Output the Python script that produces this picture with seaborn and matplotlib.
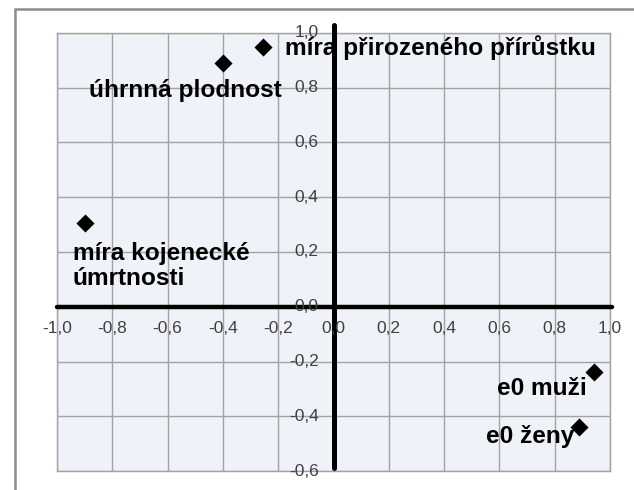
import numpy as np
import pandas as pd
import matplotlib
matplotlib.use("Agg")
import matplotlib.pyplot as plt
import seaborn as sns
from matplotlib.patches import Rectangle

# %% data
labels = ["míra přirozeného přírůstku", "úhrnná plodnost",
          "míra kojenecké\númrtnosti", "e0 muži", "e0 ženy"]
x_vals = [-0.255, -0.40, -0.90, 0.942, 0.888]
y_vals = [0.949, 0.89, 0.307, -0.237, -0.438]

x_ticks = [-1.0, -0.8, -0.6, -0.4, -0.2, 0.0, 0.2, 0.4, 0.6, 0.8, 1.0]
y_ticks = [-0.6, -0.4, -0.2, 0.0, 0.2, 0.4, 0.6, 0.8, 1.0]

df = pd.DataFrame({"label": labels, "x": x_vals, "y": y_vals})

# label placement relative to marker, in pixels (ha, va, dx, dy)
label_pos = {
    "míra přirozeného přírůstku": ("left", "center", 22, -1),
    "úhrnná plodnost": ("center", "center", -38, -27),
    "míra kojenecké\númrtnosti": ("left", "center", -12, -43),
    "e0 muži": ("center", "center", -52, -17),
    "e0 ženy": ("center", "center", -49, -10),
}

# %% plot
sns.set_style("white")
plt.rcParams["font.family"] = ["Liberation Sans", "DejaVu Sans"]

fig = plt.figure(figsize=(6.34, 4.9), dpi=100)
fig.patch.set_facecolor("white")
ax = fig.add_axes([57 / 634, 19 / 490, 553 / 634, 438 / 490])
ax.set_facecolor("#eff2f8")

# outer frame (cut at right/bottom like the reference)
fig.patches.append(Rectangle((15 / 634, -0.1), 1.2, (490 - 9) / 490 + 0.1,
                             transform=fig.transFigure, fill=False,
                             edgecolor="#8c8c8c", linewidth=1.8, zorder=0))

ax.set_xlim(-1.0, 1.0)
ax.set_ylim(-0.6, 1.0)
ax.set_xticks(x_ticks)
ax.set_yticks(y_ticks)
ax.grid(True, color="#a3a3a3", linewidth=1.0)
ax.tick_params(length=0, labelbottom=False, labelleft=False)
for s in ax.spines.values():
    s.set_color("#a3a3a3")
    s.set_linewidth(1.0)
ax.set_axisbelow(True)

# thick axes through origin
ax.axvline(0, ymin=0.007, ymax=1.018, color="black", lw=3.6, clip_on=False, zorder=3)
ax.axhline(0, xmin=0, xmax=1.004, color="black", lw=3.2, clip_on=False, zorder=3)

# tick labels next to the origin axes
def fmt(v):
    return f"{v:.1f}".replace(".", ",")

for v in x_ticks:
    ax.annotate(fmt(v), (v, 0), xytext=(0, -22), textcoords="offset pixels",
                ha="center", va="center", fontsize=12.5, color="#404040",
                annotation_clip=False, zorder=4)
for v in y_ticks:
    ax.annotate(fmt(v), (0, v), xytext=(-15, 0), textcoords="offset pixels",
                ha="right", va="center", fontsize=12.5, color="#404040",
                annotation_clip=False, zorder=4)

sns.scatterplot(data=df, x="x", y="y", marker="D", s=85, color="black",
                linewidth=0, ax=ax, zorder=5, clip_on=False)

for _, r in df.iterrows():
    ha, va, dx, dy = label_pos[r["label"]]
    ax.annotate(r["label"], (r["x"], r["y"]), xytext=(dx, dy),
                textcoords="offset pixels", ha=ha, va=va, fontsize=17.6,
                fontweight="bold", color="black", linespacing=1.1,
                annotation_clip=False, zorder=6)

ax.set_xlabel("")
ax.set_ylabel("")
fig.savefig("out.png", dpi=100)
